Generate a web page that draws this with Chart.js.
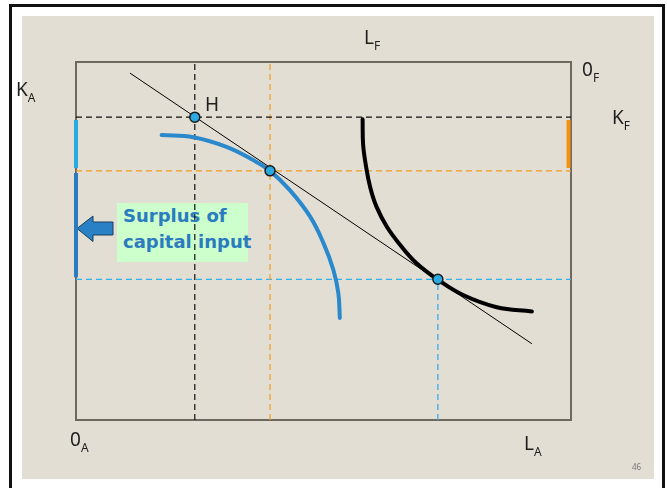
<!doctype html>
<html><head><meta charset="utf-8">
<script src="https://cdn.jsdelivr.net/npm/chart.js@4"></script>
<style>
* { margin:0; padding:0; box-sizing:border-box; }
html,body { width:667px; height:488px; overflow:hidden; background:#fff; font-family:'Noto Sans',sans-serif; }
.frame { position:absolute; left:9px; top:4px; width:656px; height:500px; border:3px solid #111; }
.panel { position:absolute; left:22px; top:16px; width:632px; height:463px; background:#e3ded3; }
canvas { position:absolute; left:0; top:0; }
.lbl { position:absolute; font-size:19px; line-height:19px; color:#1e1e1e; white-space:nowrap; }
.lbl span { font-size:12px; position:relative; top:6px; }
.note { position:absolute; left:117px; top:203px; width:131px; height:59px; background:#ccffcc; }
.note-txt { position:absolute; left:123px; top:203px; font-family:'DejaVu Sans',sans-serif; font-weight:bold;
  font-size:18px; line-height:26px; color:#2b7bbf; white-space:nowrap; }
.pg { position:absolute; left:632px; top:461px; font-size:8px; color:#777; }
svg { position:absolute; left:0; top:0; }
</style></head>
<body>
<div class="frame"></div>
<div class="panel"></div>
<div class="note"></div>
<svg width="667" height="488"><polygon points="77,228.5 93,216 93,222 113,222 113,235 93,235 93,241.5" fill="#2a80c4" stroke="#1b3d60" stroke-width="1"/></svg>
<div class="note-txt">Surplus of<br>capital input</div>
<canvas id="chart" width="667" height="488"></canvas>
<div class="lbl" style="left:364px;top:28px">L<span>F</span></div>
<div class="lbl" style="left:582px;top:60px">0<span>F</span></div>
<div class="lbl" style="left:16px;top:80px">K<span>A</span></div>
<div class="lbl" style="left:205px;top:95px">H</div>
<div class="lbl" style="left:612px;top:108px">K<span>F</span></div>
<div class="lbl" style="left:70px;top:430px">0<span>A</span></div>
<div class="lbl" style="left:524px;top:434px">L<span>A</span></div>
<div class="pg">46</div>
<script>
// isoquant of sector A (blue)
const blueCurveX = [17.3, 23.7, 30.4, 35.8, 39.2, 43.2, 47.3, 50.0, 52.0, 53.0, 53.3];
const blueCurveY = [79.6, 79.0, 76.3, 72.6, 69.6, 64.2, 56.8, 49.4, 41.9, 35.4, 28.5];
// isoquant of sector F (black)
const blackCurveX = [57.9, 58.0, 58.6, 59.4, 60.7, 62.8, 65.5, 68.8, 73.2, 78.2, 85.0, 92.1];
const blackCurveY = [84.0, 77.0, 70.8, 65.2, 59.6, 54.0, 48.9, 43.8, 39.1, 34.9, 31.5, 30.3];
// price line
const tangentX = [10.9, 92.1];
const tangentY = [96.9, 21.3];
// marked points: H, A optimum, F optimum
const pointX = [24.0, 39.2, 73.1];
const pointY = [84.6, 69.6, 39.3];
// capital segments on the side axes
const lightBlueSegY = [83.8, 70.4];
const darkBlueSegY = [69.0, 39.9];
const orangeSegY = [83.8, 70.4];

const pts = (xs, ys) => xs.map((x, i) => ({ x, y: ys[i] }));
const hLine = y => [{ x: 0, y }, { x: 100, y }];
const vLine = (x, y0, y1) => [{ x, y: y0 }, { x, y: y1 }];

const line = (data, color, width, dash) => ({
  data, showLine: true, borderColor: color, borderWidth: width, borderDash: dash || [],
  pointRadius: 0, tension: 0, clip: false, fill: false
});
const curve = (data, color) => Object.assign(line(data, color, 4),
  { tension: 0.4, borderCapStyle: 'round', borderJoinStyle: 'round' });

const boxPlugin = {
  id: 'box',
  beforeDatasetsDraw(chart) {
    const { ctx, chartArea: a } = chart;
    ctx.save();
    ctx.strokeStyle = '#6d6961';
    ctx.lineWidth = 2;
    ctx.strokeRect(a.left, a.top, a.right - a.left, a.bottom - a.top);
    ctx.restore();
  }
};

new Chart(document.getElementById('chart'), {
  type: 'scatter',
  data: {
    datasets: [
      { data: pts(pointX, pointY), pointRadius: 5, pointBackgroundColor: '#29abe2',
        pointBorderColor: '#1a1a1a', pointBorderWidth: 1.5, clip: false },
      line(pts(tangentX, tangentY), '#000', 1),
      curve(pts(blackCurveX, blackCurveY), '#000'),
      curve(pts(blueCurveX, blueCurveY), '#2a88cc'),
      line(vLine(0, lightBlueSegY[0], lightBlueSegY[1]), '#29abe2', 4),
      line(vLine(0, darkBlueSegY[0], darkBlueSegY[1]), '#2b7bbf', 4),
      line(vLine(99.5, orangeSegY[0], orangeSegY[1]), '#f39212', 4),
      line(hLine(pointY[0]), '#111', 1.2, [6, 4]),
      line(vLine(pointX[0], 0, 100), '#111', 1.2, [6, 4]),
      line(hLine(pointY[1]), '#f39c1e', 1.2, [6, 4]),
      line(vLine(pointX[1], 0, 100), '#f39c1e', 1.2, [6, 4]),
      line(hLine(pointY[2]), '#33b1ea', 1.3, [6, 4]),
      line(vLine(pointX[2], 0, pointY[2]), '#33b1ea', 1.3, [6, 4])
    ]
  },
  options: {
    responsive: false, animation: false,
    layout: { padding: { left: 76, right: 96, top: 62, bottom: 68 } },
    plugins: { legend: { display: false }, tooltip: { enabled: false } },
    scales: {
      x: { type: 'linear', min: 0, max: 100, display: false },
      y: { type: 'linear', min: 0, max: 100, display: false }
    }
  },
  plugins: [boxPlugin]
});
</script>
</body></html>
